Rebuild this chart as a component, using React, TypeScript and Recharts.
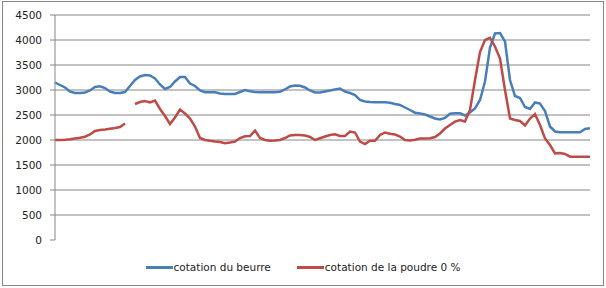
import { LineChart, Line, XAxis, YAxis, ReferenceLine } from 'recharts'

const beurre = [
  3150, 3100, 3050, 2970, 2940, 2940, 2950, 2990, 3060, 3075,
  3040, 2970, 2940, 2940, 2960, 3080, 3200, 3270, 3300, 3290,
  3230, 3110, 3020, 3060, 3170, 3260, 3260, 3130, 3080, 2990,
  2955, 2955, 2955, 2930, 2920, 2920, 2920, 2960, 3000, 2975,
  2960, 2955, 2955, 2955, 2955, 2965, 3010, 3070, 3090, 3085,
  3050, 2990, 2950, 2950, 2970, 2990, 3010, 3030, 2970, 2940,
  2900, 2800, 2770, 2760, 2755, 2755, 2755, 2745, 2720, 2700,
  2650, 2600, 2545, 2530, 2510, 2470, 2430, 2410, 2440, 2525,
  2533, 2533, 2490, 2550, 2630, 2800, 3170, 3850, 4130, 4140,
  3970, 3200, 2880, 2840, 2660, 2620, 2750, 2730, 2580, 2270,
  2170, 2155, 2155, 2155, 2155, 2155, 2220, 2235,
]

const poudre = [
  2000, 2000, 2005, 2015, 2030, 2045, 2065, 2110, 2180, 2200,
  2210, 2225, 2240, 2260, 2330, null, 2720, 2760, 2780, 2750,
  2790, 2620, 2480, 2320, 2450, 2610, 2530, 2430, 2270, 2040,
  2000, 1985, 1970, 1960, 1935, 1950, 1970, 2040, 2075, 2080,
  2190, 2040, 2000, 1985, 1990, 2000, 2040, 2090, 2100, 2100,
  2090, 2060, 2000, 2035, 2070, 2100, 2115, 2080, 2080, 2170,
  2150, 1970, 1920, 1985, 1985, 2100, 2150, 2125, 2110, 2070,
  2000, 1990, 2005, 2030, 2030, 2035, 2060, 2130, 2230, 2300,
  2367, 2400, 2370, 2600, 3200, 3760, 4000, 4045, 3870, 3630,
  3000, 2430, 2400, 2380, 2290, 2430, 2520, 2300, 2030, 1900,
  1733, 1740, 1720, 1667, 1667, 1667, 1667, 1667,
]

const yTicks = [0, 500, 1000, 1500, 2000, 2500, 3000, 3500, 4000, 4500]

const series = [
  { key: 'beurre', name: 'cotation du beurre', color: '#4a7ebb' },
  { key: 'poudre', name: 'cotation de la poudre 0 %', color: '#be4b48' },
]

const data = beurre.map((b, i) => ({ i, beurre: b, poudre: poudre[i] }))

const font = '"DejaVu Sans", sans-serif'

export default function App() {
  return (
    <div style={{ position: 'absolute', left: 0, top: 0, width: 606, height: 288, background: '#fff' }}>
      {/* outer chart frame */}
      <div
        style={{
          position: 'absolute',
          left: 2,
          top: 1,
          width: 602,
          height: 285,
          boxSizing: 'border-box',
          border: '1px solid #868686',
        }}
      />
      <div style={{ position: 'absolute', left: 0, top: 0 }}>
        <LineChart width={606} height={288} data={data} margin={{ top: 15, right: 16, bottom: 48, left: 0 }}>
          {yTicks
            .filter((v) => v > 0)
            .map((v) => (
              <ReferenceLine key={v} y={v} stroke="#868686" strokeWidth={1} />
            ))}
          <XAxis dataKey="i" hide />
          <YAxis
            domain={[0, 4500]}
            ticks={yTicks}
            width={55}
            stroke="#868686"
            tickSize={5}
            tickMargin={8}
            tick={{ fill: '#222', fontSize: 10.5, fontFamily: font }}
          />
          {series.map((s) => (
            <Line
              key={s.key}
              type="linear"
              dataKey={s.key}
              name={s.name}
              stroke={s.color}
              strokeWidth={2.5}
              dot={false}
              isAnimationActive={false}
            />
          ))}
        </LineChart>
      </div>
      {/* legend */}
      <div
        style={{
          position: 'absolute',
          top: 260,
          left: 0,
          width: 606,
          display: 'flex',
          justifyContent: 'center',
          gap: 26,
          fontFamily: font,
          fontSize: 10.5,
          lineHeight: '14px',
          color: '#222',
        }}
      >
        {series.map((s) => (
          <div key={s.key} style={{ display: 'flex', alignItems: 'center' }}>
            <span style={{ display: 'inline-block', width: 27, height: 3, background: s.color }} />
            <span style={{ marginLeft: 1 }}>{s.name}</span>
          </div>
        ))}
      </div>
    </div>
  )
}
